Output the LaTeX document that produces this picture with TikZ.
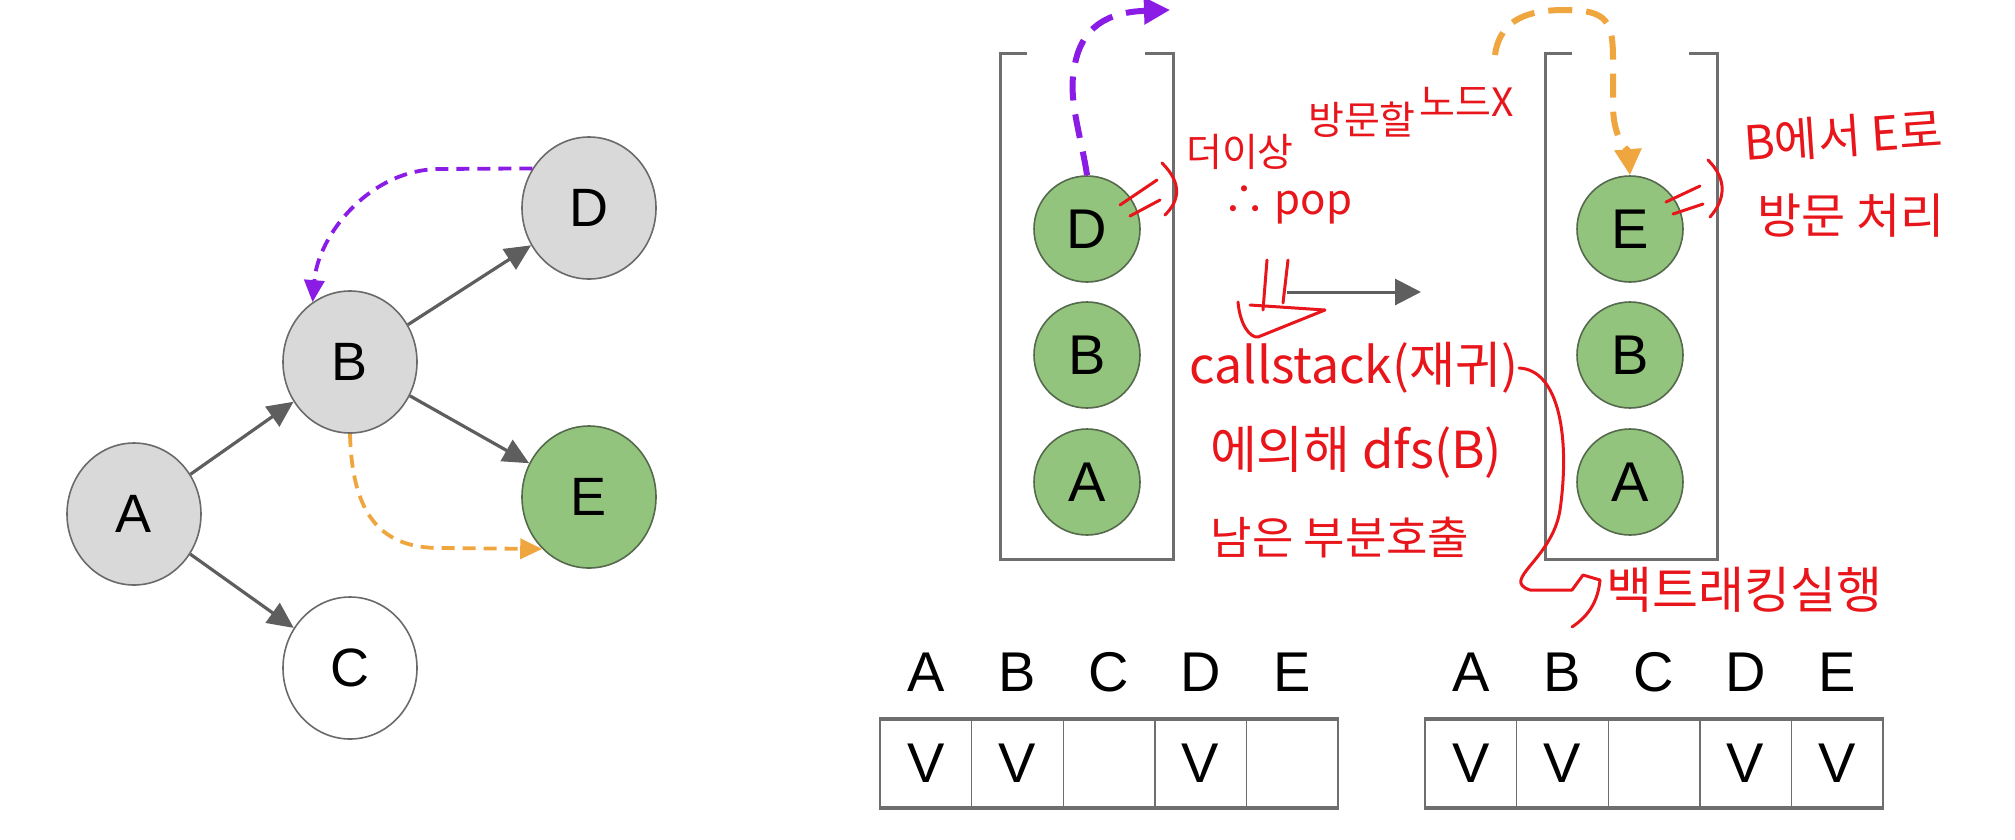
\documentclass[tikz,border=0pt]{standalone}
\usepackage{fontspec}
\setmainfont{Liberation Sans}
\newfontfamily\hand{Noto Sans CJK KR}
\usetikzlibrary{arrows.meta,shapes.geometric}
\definecolor{nodegray}{HTML}{D9D9D9}
\definecolor{nodeline}{HTML}{6A6A6A}
\definecolor{edgegray}{HTML}{5E5E5E}
\definecolor{visitgreen}{HTML}{93C47D}
\definecolor{greenline}{HTML}{55694D}
\definecolor{backpurple}{HTML}{8A1CE6}
\definecolor{callorange}{HTML}{EFA63E}
\definecolor{penred}{HTML}{E8151B}
\definecolor{boxgray}{HTML}{6E6E6E}
\begin{document}
\begin{tikzpicture}[x=1pt,y=-1pt,line width=1.6pt,
  gnode/.style={ellipse,draw=nodeline,fill=nodegray,minimum width=134,minimum height=142,inner sep=0pt,font=\fontsize{54}{54}\selectfont},
  snode/.style={circle,draw=greenline,fill=visitgreen,minimum size=106,inner sep=0pt,font=\fontsize{56}{56}\selectfont},
  link/.style={draw=edgegray,line width=3.2pt,-{Triangle[length=26pt,width=24pt]}},
  pen/.style={text=penred,font=\hand\fontsize{44}{48}\selectfont,inner sep=0pt},
  penline/.style={draw=penred,line width=3pt,line cap=round,line join=round},
  cell/.style={draw=boxgray,line width=1.4pt,minimum width=91.6,minimum height=87,inner sep=0pt,font=\fontsize{56}{56}\selectfont},
  colhead/.style={inner sep=0pt,font=\fontsize{56}{56}\selectfont}]
\path[use as bounding box] (0,0) rectangle (2015,839);
\node[gnode] (gA) at (134,514) {A};
\node[gnode] (gB) at (350,362) {B};
\node[gnode,fill=white] (gC) at (350,668) {C};
\node[gnode] (gD) at (589,208) {D};
\node[gnode,fill=visitgreen,draw=greenline] (gE) at (589,497) {E};
\draw[link] (gA) -- (gB);
\draw[link] (gA) -- (gC);
\draw[link] (gB) -- (gD);
\draw[link] (gB) -- (gE);
\begin{scope}[line width=3.8pt,dash pattern=on 13pt off 8pt]
\draw[backpurple,-{Triangle[length=22pt,width=20pt]}] (gD.145) -- (440,169) .. controls (370,169) and (318,235) .. (gB.122);
\draw[callorange,-{Triangle[length=22pt,width=20pt]}] (gB.south) .. controls (352,520) and (385,548) .. (440,548) -- (gE.228);
\end{scope}
\draw[boxgray,line width=3pt] (1027,53) -- (1000,53) -- (1000,559) -- (1173,559) -- (1173,53) -- (1145,53);
\draw[boxgray,line width=3pt] (1572,53) -- (1545,53) -- (1545,559) -- (1717,559) -- (1717,53) -- (1689,53);
\node[snode] (sD1) at (1087,229) {D};
\node[snode] (sB1) at (1087,355) {B};
\node[snode] (sA1) at (1087,482) {A};
\node[snode] (sE2) at (1630,229) {E};
\node[snode] (sB2) at (1630,355) {B};
\node[snode] (sA2) at (1630,482) {A};
\coordinate (popend) at (1170,10);
\coordinate (callstart) at (1495,55);
\coordinate (move1) at (1287,292);
\coordinate (move2) at (1421,292);
\begin{scope}[line width=6pt,dash pattern=on 24pt off 14pt]
\draw[backpurple,-{Triangle[length=26pt,width=26pt]}] (sD1.north) .. controls (1082,140) and (1068,100) .. (1074,70) .. controls (1080,25) and (1110,12) .. (popend);
\draw[callorange,-{Triangle[length=26pt,width=26pt]}] (callstart) .. controls (1500,18) and (1530,10) .. (1565,10) .. controls (1608,10) and (1613,22) .. (1613,60) -- (1613,105) .. controls (1613,140) and (1628,150) .. (sE2.north);
\end{scope}
\draw[edgegray,line width=3pt,-{Triangle[length=26pt,width=26pt]}] (move1) -- (move2);
\foreach \l/\v [count=\i] in {A/V,B/V,C/{},D/V,E/{}} {
  \node[colhead] (hl\i) at (834.2+91.6*\i,672) {\l};
  \node[cell] (vl\i) at (834.2+91.6*\i,763.5) {\v};
}
\foreach \l/\v [count=\i] in {A/V,B/V,C/{},D/V,E/V} {
  \node[colhead] (hr\i) at (1379.2+91.6*\i,672) {\l};
  \node[cell] (vr\i) at (1379.2+91.6*\i,763.5) {\v};
}
\draw[boxgray,line width=4pt] (vl1.north west) -- (vl5.north east);
\draw[boxgray,line width=4pt] (vl1.south west) -- (vl5.south east);
\draw[boxgray,line width=4pt] (vr1.north west) -- (vr5.north east);
\draw[boxgray,line width=4pt] (vr1.south west) -- (vr5.south east);
\draw[penline] (1120,205) -- (1157,180);
\draw[penline] (1130,216) -- (1160,200);
\draw[penline] (1162,163) .. controls (1182,183) and (1180,200) .. (1165,215);
\node[pen,font=\hand\fontsize{39}{41}\selectfont] (nomore1) at (1240,152) {더이상};
\node[pen,font=\hand\fontsize{39}{41}\selectfont] (nomore2) at (1362,120) {방문할};
\node[pen,font=\hand\fontsize{39}{41}\selectfont] (nomore3) at (1467,102) {노드X};
\node[pen,font=\hand\fontsize{42}{44}\selectfont] (pop) at (1288,205) {∴ pop};
\draw[penline] (1267,260) -- (1263,310);
\draw[penline] (1288,260) -- (1283,303);
\draw[penline] (1238,302) .. controls (1240,325) and (1250,338) .. (1258,337) -- (1325,310) -- (1250,305);
\node[pen,font=\hand\fontsize{50}{52}\selectfont] (callstack) at (1354,368) {callstack(재귀)};
\node[pen,font=\hand\fontsize{51}{53}\selectfont] (bydfs) at (1356,452) {에의해 dfs(B)};
\node[pen,font=\hand\fontsize{45}{47}\selectfont] (rest) at (1340,538) {남은 부분호출};
\draw[penline] (callstack.east) .. controls (1560,370) and (1570,440) .. (1560,510) .. controls (1552,560) and (1500,580) .. (1530,590) -- (1572,590);
\draw[penline] (1572,590) -- (1583,575) -- (1600,580) .. controls (1598,600) and (1590,615) .. (1572,627);
\node[pen,font=\hand\fontsize{50}{52}\selectfont,anchor=west] (backtrack) at (1606,590) {백트래킹실행};
\draw[penline] (1666,202) -- (1700,186);
\draw[penline] (1673,214) -- (1703,204);
\draw[penline] (1708,160) .. controls (1728,180) and (1725,200) .. (1710,217);
\node[pen,rotate=4,font=\hand\fontsize{47}{49}\selectfont] (fromb) at (1843,136) {B에서 E로};
\node[pen,font=\hand\fontsize{48}{50}\selectfont] (visit) at (1851,216) {방문 처리};
\end{tikzpicture}
\end{document}
